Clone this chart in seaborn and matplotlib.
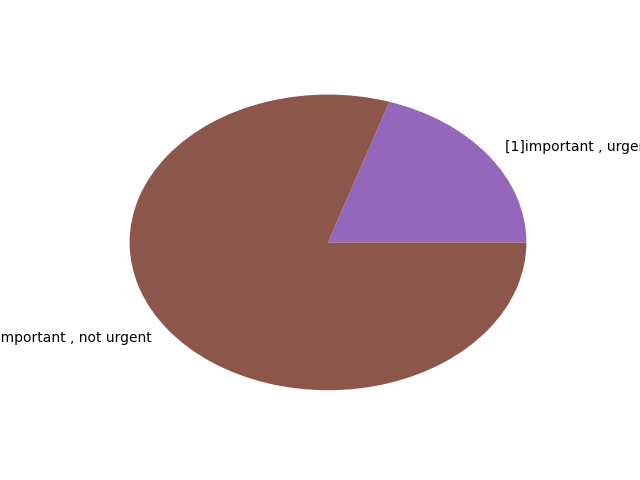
import matplotlib
matplotlib.use("Agg")
import matplotlib.pyplot as plt
import seaborn as sns

labels = ["[1]important , urgent", "[2]important , not urgent"]
values = [1, 4]

colors = sns.color_palette("tab10")[4:6]

fig, ax = plt.subplots(figsize=(6.4, 4.8), dpi=100)
ax.pie(values, labels=labels, colors=colors)
ax.set_aspect("auto")
fig.savefig("out.png")
